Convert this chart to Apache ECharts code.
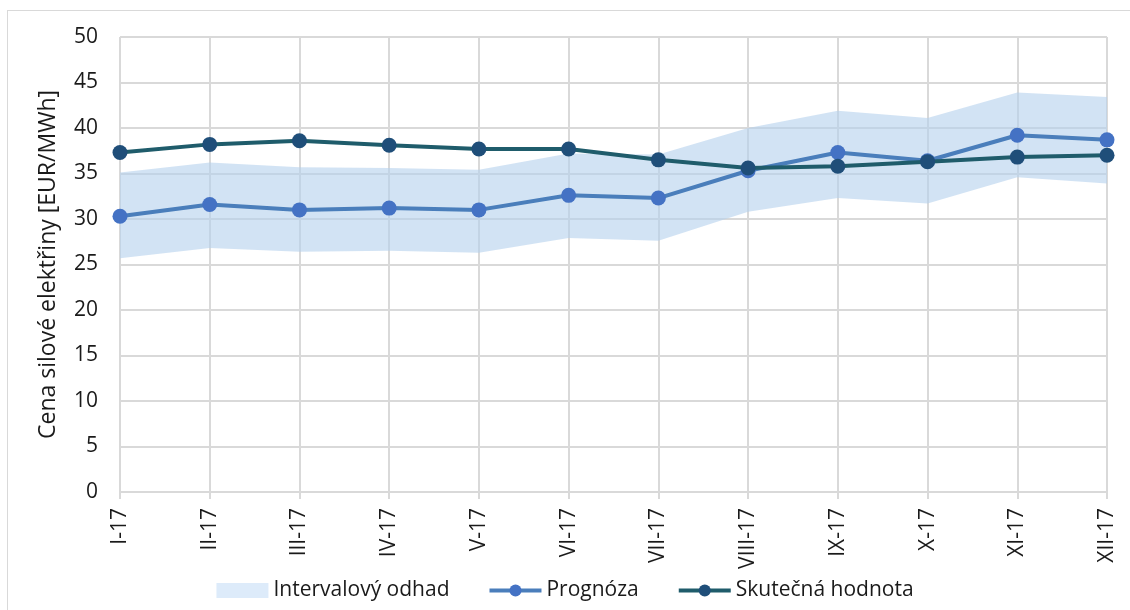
<!DOCTYPE html>
<html>
<head>
<meta charset="utf-8">
<script src="https://cdn.jsdelivr.net/npm/echarts@6/dist/echarts.min.js"></script>
<style>
  html, body { margin: 0; padding: 0; background: #ffffff; }
  #wrap { position: relative; width: 1130px; height: 610px; overflow: hidden; }
  #frame { position: absolute; left: 7px; top: 10px; width: 1200px; height: 700px;
           border-left: 1px solid #d9d9d9; border-top: 1px solid #d9d9d9; }
  #chart { position: absolute; left: 0; top: 0; width: 1130px; height: 610px; }
</style>
</head>
<body>
<div id="wrap"><div id="frame"></div><div id="chart"></div></div>
<script>
const months = ['I-17','II-17','III-17','IV-17','V-17','VI-17','VII-17','VIII-17','IX-17','X-17','XI-17','XII-17'];
const bandLower = [25.7, 26.8, 26.4, 26.5, 26.3, 27.9, 27.6, 30.8, 32.3, 31.7, 34.6, 33.9];
const bandUpper = [35.1, 36.2, 35.7, 35.6, 35.4, 37.2, 37.1, 40.0, 41.9, 41.1, 43.9, 43.4];
const prognoza = [30.3, 31.6, 31.0, 31.2, 31.0, 32.6, 32.3, 35.3, 37.3, 36.4, 39.2, 38.7];
const skutecna = [37.3, 38.2, 38.6, 38.1, 37.7, 37.7, 36.5, 35.6, 35.8, 36.3, 36.8, 37.0];
const yTicks = { min: 0, max: 50, interval: 5 };

const FONT = '"Open Sans", sans-serif';
const bandDiff = bandUpper.map((u, i) => +(u - bandLower[i]).toFixed(2));

const chart = echarts.init(document.getElementById('chart'), null, { renderer: 'canvas' });
chart.setOption({
  animation: false,
  textStyle: { fontFamily: FONT },
  grid: { left: 120, right: 23, top: 37, bottom: 118 },
  legend: {
    left: 'center',
    top: 575,
    itemWidth: 52,
    itemHeight: 15,
    itemGap: 38,
    textStyle: { fontFamily: FONT, fontSize: 21, color: '#1a1a1a' },
    data: [
      { name: 'Intervalový odhad', icon: 'rect', itemStyle: { color: '#ddebfa' } },
      { name: 'Prognóza', lineStyle: { width: 4 } },
      { name: 'Skutečná hodnota', lineStyle: { width: 4 } }
    ]
  },
  xAxis: {
    type: 'category',
    data: months,
    boundaryGap: false,
    axisLine: { show: true, lineStyle: { color: '#d9d9d9', width: 2 } },
    axisTick: { show: true, length: 7, lineStyle: { color: '#d9d9d9', width: 2 } },
    splitLine: { show: true, lineStyle: { color: '#d9d9d9', width: 2 } },
    axisLabel: { rotate: 90, margin: 16, fontFamily: FONT, fontSize: 21, color: '#1a1a1a' }
  },
  yAxis: {
    type: 'value',
    min: yTicks.min, max: yTicks.max, interval: yTicks.interval,
    name: 'Cena silové elektřiny [EUR/MWh]',
    nameLocation: 'middle',
    nameGap: 60,
    nameTextStyle: { fontFamily: FONT, fontSize: 23, color: '#1a1a1a' },
    axisLine: { show: false },
    axisTick: { show: false },
    splitLine: { show: true, lineStyle: { color: '#d9d9d9', width: 2 } },
    axisLabel: { margin: 22, fontFamily: FONT, fontSize: 21, color: '#1a1a1a' }
  },
  series: [
    {
      name: 'bandBase', type: 'line', stack: 'band', data: bandLower,
      symbol: 'none', lineStyle: { opacity: 0 }, silent: true, z: 1
    },
    {
      name: 'Intervalový odhad', type: 'line', stack: 'band', data: bandDiff,
      symbol: 'none', lineStyle: { opacity: 0 },
      itemStyle: { color: '#ddebfa' },
      areaStyle: { color: 'rgba(180,208,236,0.6)', opacity: 1 }, z: 1
    },
    {
      name: 'Prognóza', type: 'line', data: prognoza,
      symbol: 'circle', symbolSize: 15,
      lineStyle: { color: '#4a7ebb', width: 4 },
      itemStyle: { color: '#4472c4' }, z: 3
    },
    {
      name: 'Skutečná hodnota', type: 'line', data: skutecna,
      symbol: 'circle', symbolSize: 15,
      lineStyle: { color: '#1f5c6b', width: 4 },
      itemStyle: { color: '#1f4e79' }, z: 4
    }
  ]
});
</script>
</body>
</html>
